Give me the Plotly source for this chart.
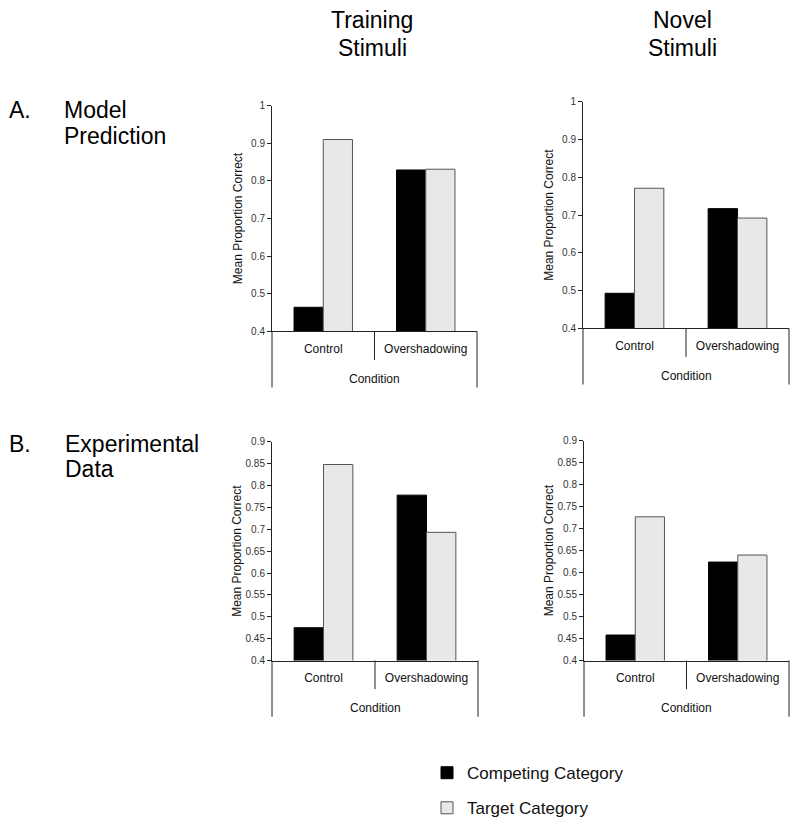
import plotly.graph_objects as go

categories = ["Control", "Overshadowing"]
series_names = ["Competing Category", "Target Category"]

model_training_competing = [0.464, 0.829]
model_training_target = [0.910, 0.831]
model_novel_competing = [0.493, 0.717]
model_novel_target = [0.771, 0.692]
exp_training_competing = [0.475, 0.778]
exp_training_target = [0.848, 0.693]
exp_novel_competing = [0.458, 0.624]
exp_novel_target = [0.727, 0.640]

row_a_ticks = [0.4, 0.5, 0.6, 0.7, 0.8, 0.9, 1.0]
row_a_ticktext = ["0.4", "0.5", "0.6", "0.7", "0.8", "0.9", "1"]
row_b_ticks = [0.4, 0.45, 0.5, 0.55, 0.6, 0.65, 0.7, 0.75, 0.8, 0.85, 0.9]
row_b_ticktext = ["0.4", "0.45", "0.5", "0.55", "0.6", "0.65", "0.7", "0.75", "0.8", "0.85", "0.9"]

W, H = 800, 832
OX, OY = 8, 8  # page body margin offset
FONT = "Arial, Liberation Sans, sans-serif"
COMP_COLOR = "#000000"
TARG_COLOR = "#e8e8e8"
TARG_LINE = "#555555"
AXC = "#222222"


def fx(px):
    return (px - OX) / W


def fy(py):
    return 1 - (py - OY) / H


# panel pixel boxes on screen: (left, right, top, bottom)
panels = [
    dict(data=(model_training_competing, model_training_target), box=(272, 477, 101, 330),
         ticks=row_a_ticks, ticktext=row_a_ticktext, rng=[0.4, 1.0], standoff=5),
    dict(data=(model_novel_competing, model_novel_target), box=(583, 789, 97, 327),
         ticks=row_a_ticks, ticktext=row_a_ticktext, rng=[0.4, 1.0], standoff=5),
    dict(data=(exp_training_competing, exp_training_target), box=(272, 478, 442, 664),
         ticks=row_b_ticks, ticktext=row_b_ticktext, rng=[0.4, 0.9], standoff=1),
    dict(data=(exp_novel_competing, exp_novel_target), box=(584, 789, 441, 664),
         ticks=row_b_ticks, ticktext=row_b_ticktext, rng=[0.4, 0.9], standoff=1),
]

fig = go.Figure()
layout = {}
shapes = []
annotations = []

for i, p in enumerate(panels, start=1):
    xa = "x" if i == 1 else f"x{i}"
    ya = "y" if i == 1 else f"y{i}"
    comp, targ = p["data"]
    fig.add_trace(go.Bar(
        x=categories, y=comp, name=series_names[0], xaxis=xa, yaxis=ya,
        marker=dict(color=COMP_COLOR, line=dict(color="#000000", width=1)),
        showlegend=(i == 1), legendgroup="comp",
    ))
    fig.add_trace(go.Bar(
        x=categories, y=targ, name=series_names[1], xaxis=xa, yaxis=ya,
        marker=dict(color=TARG_COLOR, line=dict(color=TARG_LINE, width=1)),
        showlegend=(i == 1), legendgroup="targ",
    ))
    l, r, t, b = p["box"]
    hp = b - t
    xkey = "xaxis" if i == 1 else f"xaxis{i}"
    ykey = "yaxis" if i == 1 else f"yaxis{i}"
    layout[xkey] = dict(
        domain=[fx(l), fx(r)], anchor=ya, type="category",
        showline=True, linecolor=AXC, linewidth=1,
        ticks="", showgrid=False, zeroline=False,
        tickfont=dict(family=FONT, size=12, color="#111111"),
        ticklabelstandoff=6, fixedrange=True,
    )
    layout[ykey] = dict(
        domain=[fy(b), fy(t)], anchor=xa, range=p["rng"],
        tickmode="array", tickvals=p["ticks"], ticktext=p["ticktext"],
        showline=True, linecolor=AXC, linewidth=1,
        ticks="outside", ticklen=4, tickcolor=AXC,
        showgrid=False, zeroline=False,
        tickfont=dict(family=FONT, size=10, color="#333333"),
        title=dict(text="Mean Proportion Correct", font=dict(family=FONT, size=12, color="#111111"),
                   standoff=p["standoff"]),
        fixedrange=True,
    )
    # category divider lines below the x axis
    for xd, depth in [(0, 57), (0.5, 29), (1, 57)]:
        shapes.append(dict(
            type="line", xref=f"{xa} domain", yref=f"{ya} domain",
            x0=xd, x1=xd, y0=0, y1=-depth / hp,
            line=dict(color=AXC, width=1),
        ))
    annotations.append(dict(
        text="Condition", xref=f"{xa} domain", yref="paper",
        x=0.5, y=fy(b + 48), xanchor="center", yanchor="middle",
        showarrow=False, font=dict(family=FONT, size=12, color="#111111"),
    ))

big = dict(family=FONT, size=23, color="#000000")
text_items = [
    ("Training", 372, 14, "center"), ("Stimuli", 372, 42, "center"),
    ("Novel", 682, 14, "center"), ("Stimuli", 682, 42, "center"),
    ("A.", 7, 105, "left"), ("Model", 62, 105, "left"), ("Prediction", 62, 132, "left"),
    ("B.", 7, 444, "left"), ("Experimental", 63, 444, "left"), ("Data", 63, 470, "left"),
]
for txt, px, py, anchor in text_items:
    annotations.append(dict(
        text=txt, xref="paper", yref="paper", x=fx(px), y=fy(py),
        xanchor=anchor, yanchor="middle", showarrow=False, font=big,
    ))

fig.update_layout(
    width=W, height=H,
    margin=dict(l=0, r=0, t=0, b=0),
    paper_bgcolor="white", plot_bgcolor="white",
    barmode="group", bargap=0.43, bargroupgap=0,
    showlegend=True,
    legend=dict(
        x=fx(427), y=fy(760), xanchor="left", yanchor="top",
        font=dict(family=FONT, size=17, color="#111111"),
        traceorder="grouped", tracegroupgap=10, bgcolor="rgba(0,0,0,0)",
    ),
    shapes=shapes, annotations=annotations,
    font=dict(family=FONT),
    **layout,
)

fig.write_html("out.html")
